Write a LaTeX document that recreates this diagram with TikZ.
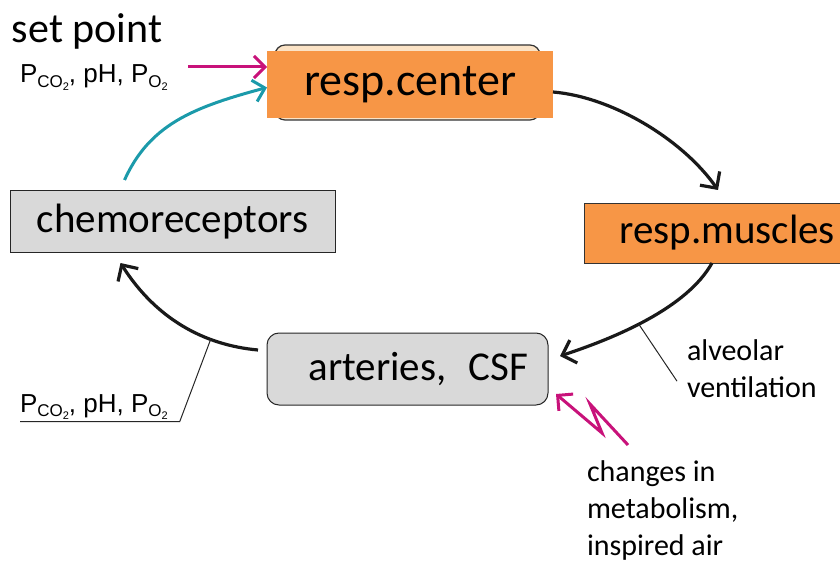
\documentclass[tikz,border=0pt]{standalone}
\usepackage{fontspec}
\setmainfont{Carlito}
\newfontfamily\helv{Liberation Sans}
\usepackage{tikz}
\usetikzlibrary{arrows.meta,positioning,calc}
\definecolor{respOrange}{HTML}{F79646}
\definecolor{respGray}{HTML}{D9D9D9}
\definecolor{respTan}{HTML}{FBE3C6}
\definecolor{respPink}{HTML}{C8127A}
\definecolor{respTeal}{HTML}{1B9AAA}
\newcommand{\gassub}[1]{\raisebox{-4.5pt}{\fontsize{17}{17}\selectfont #1}}
\newcommand{\gastwo}{\raisebox{-3pt}{\fontsize{11}{11}\selectfont 2}}
\newcommand{\gaslist}{P\gassub{CO\gastwo}, pH, P\gassub{O\gastwo}}

\begin{document}
\begin{tikzpicture}[
x=1pt, y=-1pt,
every node/.style={font=\fontsize{41}{49}\selectfont, inner sep=0pt, outer sep=0pt},
obox/.style={draw=black!80, fill=respOrange, line width=0.8pt},
gbox/.style={draw=black!85, fill=respGray, line width=1pt},
small/.style={font=\fontsize{30}{37}\selectfont, align=left},
gas/.style={font=\helv\fontsize{26}{26}\selectfont},
arr/.style={-{Straight Barb[length=12pt,width=24pt]}, line width=3.2pt, black!90},
parr/.style={-{Straight Barb[length=11pt,width=22pt]}, line width=3pt, respPink},
tarr/.style={-{Straight Barb[length=11pt,width=22pt]}, line width=3pt, respTeal},
lead/.style={line width=1pt, black!85}
]
\useasboundingbox (0,0) rectangle (840,564);

% boxes of the loop
\node[draw=black!80, fill=respTan, rounded corners=10pt, line width=1.2pt, minimum width=265pt, minimum height=75pt] (centerback) at (407.5,82.5) {};
\node[fill=respOrange, minimum width=286pt, minimum height=67pt, font=\fontsize{46}{55}\selectfont] (respcenter) at (410,84.5) {resp.center};
\node[obox, minimum width=256pt, minimum height=60pt, text width=246pt, align=right] (respmuscles) at (712,233) {resp.muscles};
\node[gbox, minimum width=325pt, minimum height=61pt] (chemo) at (172.5,221.5) {chemoreceptors};
\node[gbox, rounded corners=12pt, minimum width=281pt, minimum height=72pt, text width=241pt, align=right] (arteries) at (407.5,369) {arteries,\hspace{22pt}CSF};

% texts
\node[anchor=base west, font=\fontsize{42}{50}\selectfont] (setpoint) at (12,43) {set point};
\node[gas, anchor=base west] (gastop) at (20,83) {\gaslist};
\node[gas, anchor=base west] (gasbottom) at (20,412) {\gaslist};
\node[small, anchor=base west] (alveolar) at (687,397) {alveolar\\ventilation};
\node[small, anchor=base west] (changes) at (587,555) {changes in\\metabolism,\\inspired air};

% loop arrows
\draw[arr] ([yshift=-7.5pt]respcenter.east) .. controls +(60,5) and +(-35,-50) .. ([xshift=6pt,yshift=13pt]respmuscles.north);
\draw[arr] (respmuscles.south) .. controls +(-25,45) and +(55,-18) .. ([xshift=12pt,yshift=13pt]arteries.east) coordinate[pos=0.55] (alvpt);
\draw[arr] ([xshift=-9pt,yshift=19pt]arteries.west) .. controls +(-55,-5) and +(35,55) .. ([xshift=-52pt,yshift=-11pt]chemo.south) coordinate[pos=0.3] (gaspt);
\draw[tarr] ([xshift=-48pt,yshift=11pt]chemo.north) .. controls +(25,-55) and +(-75,20) .. ([yshift=-3pt]respcenter.west);

% leader lines
\draw[lead] (alvpt) -- ([xshift=-10pt,yshift=-13pt]alveolar.west);
\draw[lead] (gaspt) -- ([xshift=12pt,yshift=-2pt]gasbottom.south east) -- ([yshift=-2pt]gasbottom.south west);

% set point and disturbance
\coordinate (pinkstart) at (188,67);
\draw[parr] (pinkstart) -- ([yshift=17.5pt]respcenter.west);
\coordinate (pinktail) at (628,445);
\draw[parr] (pinktail) -- ++(-38,-41) -- ++(12,29) -- ([xshift=8pt,yshift=11pt]arteries.south east);
\end{tikzpicture}
\end{document}
